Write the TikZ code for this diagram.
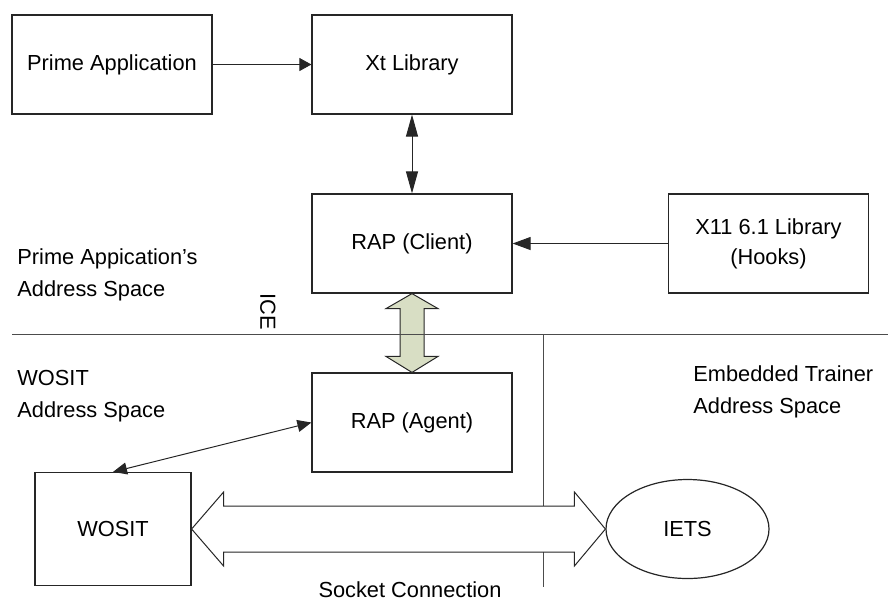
\documentclass[tikz,border=0pt]{standalone}
\usepackage{fontspec}
\setmainfont{Liberation Sans}
\usetikzlibrary{arrows.meta,calc,shapes.geometric}
\definecolor{icefill}{RGB}{216,222,196}

\begin{document}
\begin{tikzpicture}[x=0.5pt,y=-0.5pt,
box/.style={draw=black!85,line width=0.6pt,minimum width=100pt,minimum height=49.5pt,inner sep=0pt,align=center,font=\fontsize{10.9}{15}\selectfont},
lbl/.style={align=left,anchor=west,inner sep=0pt,font=\fontsize{10.9}{16}\selectfont},
link/.style={line width=0.5pt,draw=black!85},
onehead/.style={-{Triangle[length=#1,width=6.5pt]}},
onehead/.default=6pt,
twohead/.style={{Triangle[length=#1,width=6pt]}-{Triangle[length=#1,width=6pt]}},
twohead/.default=7pt]
\useasboundingbox (0,0) rectangle (888,602);

\node[box] (prime) at (112,64.5) {Prime Application};
\node[box] (xt) at (412,64.5) {Xt Library};
\node[box] (client) at (412,243.5) {RAP (Client)};
\node[box] (hooks) at (768.5,243.5) {X11 6.1 Library\\(Hooks)};
\node[box] (agent) at (412,422.5) {RAP (Agent)};
\node[box,minimum width=78pt,minimum height=56.5pt] (wosit) at (113,529) {WOSIT};
\node[box,ellipse,minimum width=81.5pt,minimum height=49.5pt] (iets) at (687.5,529) {IETS};

\node[lbl] (primespace) at (17,275) {Prime Appication’s\\Address Space};
\node[lbl] (wositspace) at (17,396) {WOSIT\\Address Space};
\node[lbl] (etspace) at (693,391.5) {Embedded Trainer\\Address Space};
\node[lbl,anchor=center,rotate=-90] (ice) at (268,312) {ICE};
\node[lbl,anchor=center] (socket) at (410,590) {Socket Connection};

\draw[link,onehead] (prime) -- (xt);
\draw[link,twohead=11pt] (xt) -- (client);
\draw[link,onehead=9pt] (hooks) -- (client);
\draw[link,twohead] (wosit.north) -- (agent.west);

\draw[link,fill=icefill] (client.south) -- ++(26,15) -- ++(-14,0) -- ($(agent.north)+(12,-16)$) -- ++(14,0) -- (agent.north) -- ++(-26,-16) -- ++(14,0) -- ($(client.south)+(-12,15)$) -- ++(-14,0) -- cycle;

\coordinate (sepL) at (12,334.5);
\coordinate (sepR) at (888,334.5);
\coordinate (sepT) at (543,334.5);
\coordinate (sepB) at (543,587);
\draw[link,draw=black!70] (sepL) -- (sepR);
\draw[link,draw=black!70] (sepT) -- (sepB);

\draw[link,fill=white] (wosit.east) -- ++(32,-37) -- ++(0,14) -- ($(iets.west)+(-31,-23)$) -- ++(0,-14) -- (iets.west) -- ++(-31,37) -- ++(0,-14) -- ($(wosit.east)+(32,23)$) -- ++(0,14) -- cycle;
\end{tikzpicture}
\end{document}
